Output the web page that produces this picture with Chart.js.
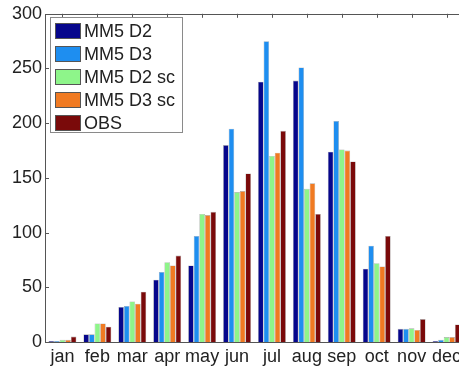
<!DOCTYPE html>
<html>
<head>
<meta charset="utf-8">
<script src="https://cdn.jsdelivr.net/npm/chart.js@4.4.0/dist/chart.umd.min.js"></script>
<style>
    html, body { margin: 0; padding: 0; background: #fff; overflow: hidden; }
    #wrap { position: relative; width: 480px; height: 370px; }
    #legend {
        position: absolute; left: 50px; top: 17px; width: 131px; height: 114px;
        border: 1px solid #8a8a8a; background: #fff;
        font-family: "Liberation Sans", Arial, sans-serif; font-size: 18px; color: #222;
    }
    .row { position: absolute; left: 4px; height: 18px; display: flex; align-items: center; }
    .sw { width: 26px; height: 16px; border: 1px solid #555; box-sizing: border-box; margin-right: 3px; }
</style>
</head>
<body>
<div id="wrap">
    <canvas id="chart" width="480" height="370"></canvas>
    <div id="legend"></div>
</div>
<script>
const months = ['jan', 'feb', 'mar', 'apr', 'may', 'jun', 'jul', 'aug', 'sep', 'oct', 'nov', 'dec'];
const seriesNames = ['MM5 D2', 'MM5 D3', 'MM5 D2 sc', 'MM5 D3 sc', 'OBS'];
const seriesColors = ['#06068c', '#1e8ef0', '#8ef58a', '#f07a22', '#7a0a0a'];

const mm5D2   = [1, 7, 32, 57, 70, 180, 238, 239, 174, 67, 12, 1];
const mm5D3   = [1, 7, 33, 64, 97, 195, 275, 251, 202, 88, 12, 2];
const mm5D2sc = [2, 17, 37, 73, 117, 137, 170, 140, 176, 72, 12.5, 4.5];
const mm5D3sc = [2, 17, 35, 70, 116, 138, 173, 145, 175, 69, 11, 4.5];
const obs     = [5, 14, 46, 79, 119, 154, 193, 117, 165, 97, 21, 16];

const yTicks = [0, 50, 100, 150, 200, 250, 300];

const allSeries = [mm5D2, mm5D3, mm5D2sc, mm5D3sc, obs];

// html legend
const legendEl = document.getElementById('legend');
seriesNames.forEach((name, i) => {
    const row = document.createElement('div');
    row.className = 'row';
    row.style.top = (4 + i * 23) + 'px';
    row.innerHTML = `<div class="sw" style="background:${seriesColors[i]}"></div><span>${name}</span>`;
    legendEl.appendChild(row);
});

const axisFrame = {
    id: 'axisFrame',
    afterDatasetsDraw(chart) {
        const { ctx, chartArea: a, scales } = chart;
        ctx.save();
        ctx.strokeStyle = '#555';
        ctx.lineWidth = 1;
        ctx.beginPath();
        // y ticks inward, both sides
        yTicks.forEach(v => {
            const y = Math.round(scales.y.getPixelForValue(v)) + 0.5;
            ctx.moveTo(a.left, y); ctx.lineTo(a.left + 4, y);
            ctx.moveTo(a.right, y); ctx.lineTo(a.right - 4, y);
        });
        // x ticks inward at top
        months.forEach((m, i) => {
            const x = Math.round(scales.x.getPixelForValue(i)) + 0.5;
            ctx.moveTo(x, a.top); ctx.lineTo(x, a.top + 4);
        });
        ctx.stroke();
        ctx.strokeRect(Math.round(a.left) + 0.5, Math.round(a.top) + 0.5,
            Math.round(a.right - a.left), Math.round(a.bottom - a.top));
        ctx.restore();
    }
};

new Chart(document.getElementById('chart'), {
    type: 'bar',
    data: {
        labels: months,
        datasets: allSeries.map((d, i) => ({
            label: seriesNames[i],
            data: d,
            backgroundColor: seriesColors[i],
            borderColor: 'rgba(0,0,0,0.35)',
            borderWidth: 0.6,
            categoryPercentage: 0.8,
            barPercentage: 1.0
        }))
    },
    options: {
        responsive: false,
        animation: false,
        layout: { padding: { top: 13, right: 16, left: 0, bottom: 0 } },
        plugins: { legend: { display: false }, tooltip: { enabled: false } },
        scales: {
            x: {
                grid: { display: false, drawTicks: false },
                border: { display: false },
                ticks: {
                    color: '#222',
                    padding: 4,
                    maxRotation: 0,
                    autoSkip: false,
                    font: { family: 'Liberation Sans, Arial, sans-serif', size: 18 }
                },
                afterFit(scale) { scale.height = 28; }
            },
            y: {
                min: 0,
                max: 300,
                grid: { display: false, drawTicks: false },
                border: { display: false },
                ticks: {
                    stepSize: 50,
                    color: '#222',
                    padding: 3,
                    font: { family: 'Liberation Sans, Arial, sans-serif', size: 18 }
                },
                afterFit(scale) { scale.width = 45; }
            }
        }
    },
    plugins: [axisFrame]
});
</script>
</body>
</html>
